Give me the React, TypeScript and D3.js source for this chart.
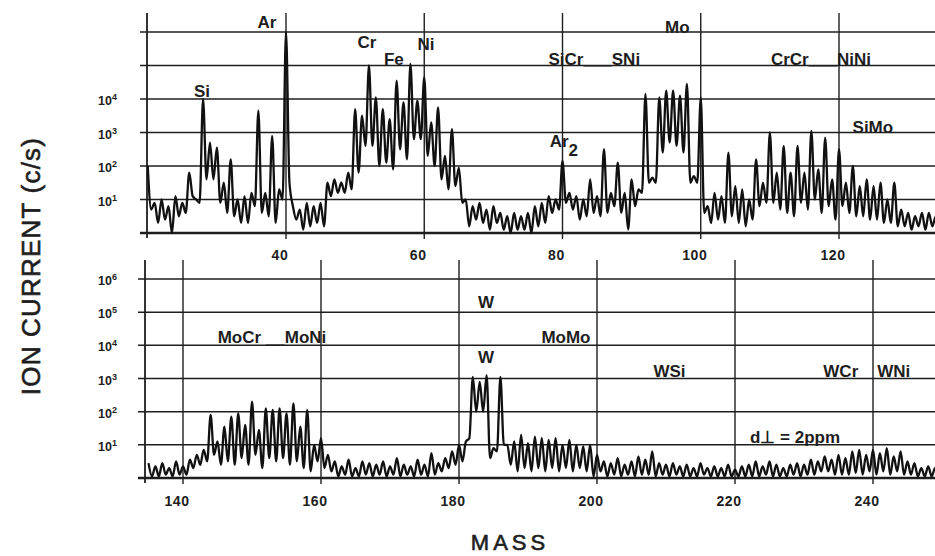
import * as d3 from 'd3'

// log10 of ion current (c/s): one value per integer mass
// (peak top) and one for the trough half a mass unit after it
const topStartMass = 20
const topPeaks = [
  2.0, 0.9, 1.0, 0.8, 1.1, 0.9, 1.8, 1.0, 4.0, 2.7,
  2.55, 1.5, 2.2, 1.0, 1.1, 1.2, 3.65, 1.2, 2.9, 1.3,
  6.0, 0.8, 0.7, 0.9, 0.8, 0.9, 1.5, 1.6, 1.5, 1.8,
  3.7, 3.5, 5.0, 4.05, 3.7, 3.4, 4.55, 3.9, 5.05, 3.95,
  4.65, 3.3, 3.75, 2.3, 3.1, 1.95, 1.0, 0.8, 0.9, 0.7,
  0.8, 0.6, 0.5, 0.6, 0.5, 0.6, 0.8, 0.9, 1.1, 1.0,
  2.15, 1.2, 1.1, 1.0, 1.6, 1.1, 2.5, 1.2, 2.1, 1.2,
  1.6, 1.3, 4.15, 1.65, 4.05, 4.25, 4.25, 4.1, 4.45, 1.7,
  4.05, 0.8, 1.2, 1.1, 2.4, 1.4, 1.3, 1.0, 2.2, 1.5,
  3.0, 1.8, 2.6, 1.8, 2.6, 1.8, 3.05, 1.9, 2.85, 1.6,
  2.5, 1.5, 2.0, 1.4, 1.6, 1.4, 1.5, 1.0, 1.5, 0.7,
  0.6, 0.5, 0.6, 0.6, 0.5
]
const topTroughs = [
  0.7, 0.3, 0.4, 0.0, 0.5, 0.6, 1.1, 0.9, 1.6, 1.6,
  0.9, 0.6, 0.5, 0.3, 0.3, 0.8, 0.6, 0.5, 0.3, 1.0,
  1.5, 0.4, 0.1, 0.2, 0.3, 0.2, 1.1, 1.2, 1.2, 1.3,
  1.8, 2.6, 2.6, 2.0, 2.1, 1.9, 2.5, 2.2, 2.8, 2.8,
  2.3, 2.0, 1.6, 1.3, 1.4, 0.9, 0.2, 0.4, 0.3, 0.1,
  0.3, 0.1, 0.0, 0.1, 0.1, 0.0, 0.2, 0.3, 0.6, 0.7,
  0.9, 0.7, 0.4, 0.5, 0.6, 0.5, 0.6, 0.8, 0.6, 0.1,
  0.8, 1.2, 1.5, 1.5, 2.4, 2.7, 2.6, 2.4, 1.5, 1.5,
  0.6, 0.3, 0.4, 0.3, 0.5, 0.3, 0.2, 0.4, 0.8, 0.9,
  0.9, 0.7, 0.6, 0.5, 0.9, 0.7, 1.0, 0.6, 0.8, 0.4,
  0.8, 0.6, 0.5, 0.5, 0.4, 0.4, 0.3, 0.3, 0.2, 0.2,
  0.1, 0.2, 0.1, 0.2, 0.1
]

const bottomStartMass = 135
const bottomPeaks = [
  0.45, 0.35, 0.45, 0.3, 0.5, 0.35, 0.55, 0.7, 0.85, 1.9,
  1.1, 1.55, 1.85, 1.95, 1.6, 2.3, 1.45, 2.1, 2.05, 2.1,
  1.95, 2.25, 1.55, 2.05, 1.0, 1.2, 0.7, 0.5, 0.35, 0.55,
  0.3, 0.5, 0.45, 0.4, 0.5, 0.35, 0.6, 0.4, 0.35, 0.55,
  0.4, 0.75, 0.45, 0.6, 0.8, 1.0, 1.1, 3.05, 2.9, 3.1,
  0.9, 3.05, 1.0, 1.1, 1.3, 1.05, 1.25, 1.2, 1.15, 1.2,
  1.0, 1.15, 1.0, 0.95, 1.0, 0.7, 0.5, 0.45, 0.6, 0.4,
  0.5, 0.65, 0.55, 0.8, 0.45, 0.4, 0.45, 0.35, 0.4, 0.3,
  0.45, 0.3, 0.35, 0.3, 0.4, 0.25, 0.35, 0.4, 0.5, 0.35,
  0.5, 0.4, 0.3, 0.4, 0.45, 0.4, 0.55, 0.5, 0.65, 0.55,
  0.7, 0.6, 0.8, 0.85, 0.7, 0.85, 0.75, 0.9, 0.65, 0.8,
  0.5, 0.45, 0.3, 0.35, 0.3
]
const bottomTroughs = [
  0.05, 0.05, 0.1, 0.05, 0.1, 0.1, 0.3, 0.4, 0.5, 0.7,
  0.4, 0.5, 0.4, 0.6, 0.4, 0.7, 0.3, 0.6, 0.5, 0.6,
  0.4, 0.5, 0.3, 0.2, 0.5, 0.3, 0.2, 0.05, 0.1, 0.05,
  0.05, 0.1, 0.05, 0.1, 0.05, 0.1, 0.05, 0.1, 0.05, 0.1,
  0.05, 0.1, 0.2, 0.3, 0.4, 0.5, 1.2, 2.0, 2.0, 0.6,
  0.8, 1.0, 0.4, 0.2, 0.3, 0.2, 0.3, 0.2, 0.3, 0.2,
  0.3, 0.2, 0.3, 0.2, 0.05, 0.2, 0.05, 0.1, 0.05, 0.1,
  0.05, 0.1, 0.1, 0.05, 0.1, 0.05, 0.1, 0.05, 0.05, 0.05,
  0.1, 0.05, 0.05, 0.05, 0.05, 0.05, 0.05, 0.05, 0.05, 0.1,
  0.05, 0.05, 0.05, 0.1, 0.05, 0.1, 0.1, 0.2, 0.2, 0.1,
  0.1, 0.1, 0.15, 0.1, 0.2, 0.1, 0.2, 0.1, 0.2, 0.1,
  0.1, 0.05, 0.05, 0.05, 0.05
]

const topTicks = [40, 60, 80, 100, 120]
const bottomTicks = [140, 160, 180, 200, 220, 240]
const gridDecades = [0, 1, 2, 3, 4, 5, 6]
const topDecadeLabels = [1, 2, 3, 4]
const bottomDecadeLabels = [1, 2, 3, 4, 5, 6]

// peak labels, placed in (mass, log10 current) space
const topLabels = [
  { text: 'Si', mass: 27.85, level: 4.06 },
  { text: 'Ar', mass: 37.25, level: 6.12 },
  { text: 'Cr', mass: 51.7, level: 5.52 },
  { text: 'Fe', mass: 55.6, level: 5.01 },
  { text: 'Ni', mass: 60.25, level: 5.46 },
  { text: 'SiCr___SNi', mass: 84.6, level: 5.01 },
  { text: 'Ar', sub: '2', mass: 80.2, level: 2.57 },
  { text: 'Mo', mass: 96.6, level: 5.97 },
  { text: 'CrCr___NiNi', mass: 117.4, level: 5.01 },
  { text: 'SiMo', mass: 124.9, level: 2.99 }
]
const bottomLabels = [
  { text: 'MoCr __MoNi', mass: 152.9, level: 4.07 },
  { text: 'W', mass: 183.9, level: 5.13 },
  { text: 'MoMo', mass: 195.5, level: 4.07 },
  { text: 'W', mass: 183.9, level: 3.47 },
  { text: 'WSi', mass: 210.5, level: 3.04 },
  { text: 'WCr__WNi', mass: 239.1, level: 3.04 },
  { text: 'd\u22A5 = 2ppm', mass: 228.7, level: 1.06 }
]

const W = 935
const H = 556
const FONT = "'Liberation Sans', Arial, Helvetica, sans-serif"
const INK = '#1e1e1e'

type Label = { text: string; sub?: string; mass: number; level: number }

interface PanelProps {
  id: string
  startMass: number
  peaks: number[]
  troughs: number[]
  x: d3.ScaleLinear<number, number>
  y: d3.ScaleLinear<number, number>
  ticks: number[]
  decadeLabels: number[]
  labels: Label[]
  axisX: number
  gridTop: number
  tickLabelY: number
}

const Panel = ({ id, startMass, peaks, troughs, x, y, ticks, decadeLabels, labels, axisX, gridTop, tickLabelY }: PanelProps) => {
  const points: [number, number][] = peaks.flatMap((p, i) => [
    [startMass + i, p] as [number, number],
    [startMass + i + 0.5, troughs[i]] as [number, number]
  ])
  const line = d3.line<[number, number]>()
    .x(d => x(d[0]))
    .y(d => y(d[1]))
    .curve(d3.curveMonotoneX)
  const base = y(0)

  return (
    <g>
      <defs>
        <clipPath id={`clip-${id}`}>
          <rect x={axisX} y={gridTop - 10} width={W - axisX} height={base - gridTop + 12} />
        </clipPath>
      </defs>

      {/* horizontal decade lines */}
      {gridDecades.map(d => (
        <line key={d} x1={axisX - 7} x2={W} y1={y(d)} y2={y(d)}
          stroke={INK} strokeWidth={d === 0 ? 2.6 : 1.5} />
      ))}

      {/* vertical mass lines */}
      {ticks.map(t => (
        <line key={t} x1={x(t)} x2={x(t)} y1={gridTop} y2={base + 6}
          stroke={INK} strokeWidth={1.4} />
      ))}
      <line x1={axisX} x2={axisX} y1={gridTop} y2={base + 5} stroke={INK} strokeWidth={1.8} />

      {/* spectrum */}
      <path d={line(points) ?? ''} fill="none" stroke="#111" strokeWidth={2.3}
        strokeLinejoin="round" clipPath={`url(#clip-${id})`} />

      {/* tick labels */}
      {ticks.map(t => (
        <text key={t} x={x(t) - 6} y={tickLabelY} textAnchor="middle" fontSize={14}
          fontWeight="bold" letterSpacing={0.6} fill={INK}>{t}</text>
      ))}
      {decadeLabels.map(d => (
        <text key={d} x={98} y={y(d) + 6} fontSize={12.5} fontWeight="bold" fill={INK}>
          10<tspan dy={-5} fontSize={9}>{d}</tspan>
        </text>
      ))}

      {/* peak labels */}
      {labels.map((l, i) => (
        <text key={i} x={x(l.mass)} y={y(l.level)} textAnchor="middle" fontSize={17}
          fontWeight="bold" fill={INK}>
          {l.text}
          {l.sub ? <tspan dy={9}>{l.sub}</tspan> : null}
        </text>
      ))}
    </g>
  )
}

export default function App() {
  const topX = d3.scaleLinear().domain([40, 120]).range([286, 839])
  const topY = d3.scaleLinear().domain([0, 6]).range([233, 32])
  const bottomX = d3.scaleLinear().domain([140, 240]).range([183, 873])
  const bottomY = d3.scaleLinear().domain([0, 6]).range([478, 279])

  return (
    <svg width={W} height={H} fontFamily={FONT}
      style={{ position: 'fixed', left: 0, top: 0, background: '#fff', display: 'block' }}>
      <rect width={W} height={H} fill="#fff" />
      <Panel id="top" startMass={topStartMass} peaks={topPeaks} troughs={topTroughs}
        x={topX} y={topY} ticks={topTicks} decadeLabels={topDecadeLabels} labels={topLabels}
        axisX={147} gridTop={13} tickLabelY={260} />
      <Panel id="bottom" startMass={bottomStartMass} peaks={bottomPeaks} troughs={bottomTroughs}
        x={bottomX} y={bottomY} ticks={bottomTicks} decadeLabels={bottomDecadeLabels} labels={bottomLabels}
        axisX={145} gridTop={260} tickLabelY={506} />

      <text transform="translate(40,266) rotate(-90)" textAnchor="middle" fontSize={26}
        letterSpacing={1.2} fill={INK} stroke={INK} strokeWidth={0.6}>ION CURRENT (c/s)</text>
      <text x={510} y={550} textAnchor="middle" fontSize={22} letterSpacing={4} fill={INK}
        stroke={INK} strokeWidth={0.6}>MASS</text>
    </svg>
  )
}
